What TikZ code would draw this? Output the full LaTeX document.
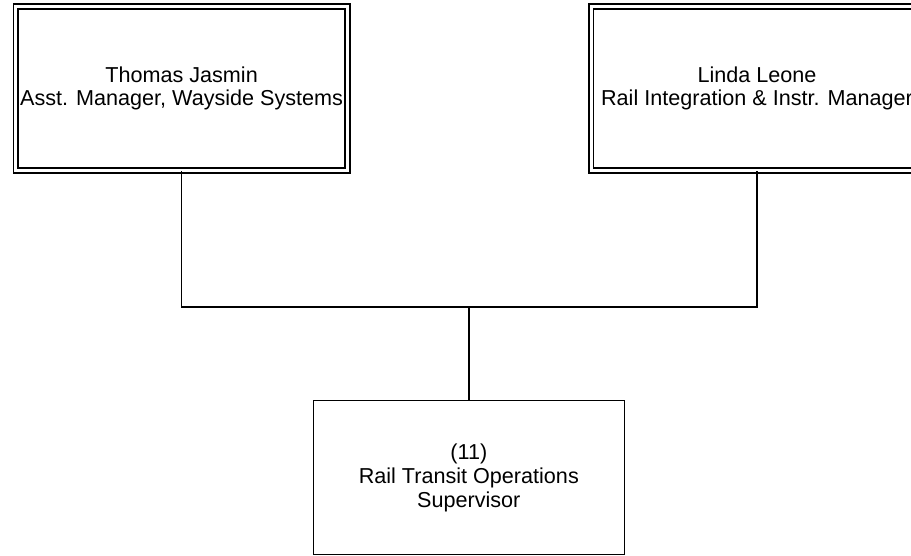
\documentclass[tikz,border=0pt]{standalone}
\usepackage{fontspec}
\setmainfont{Liberation Sans}
\usetikzlibrary{positioning}

\begin{document}
\begin{tikzpicture}[
  x=0.75pt, y=-0.75pt,
  every node/.style={font=\fontsize{16.2pt}{17.8pt}\selectfont, align=center},
  mgr/.style={draw, line width=1.05pt, double, double distance=2.6pt, minimum width=248.6pt, minimum height=123pt},
  staff/.style={draw, line width=1.1pt, minimum width=233.3pt, minimum height=115.5pt},
  link/.style={draw, line width=1.1pt}
]
\useasboundingbox (0,0) rectangle (911,556);
\node[mgr] (jasmin) at (181.6,88.4) {Thomas Jasmin\\Asst. Manager, Wayside Systems};
\node[mgr] (leone) at (757,88.4) {Linda Leone\\Rail Integration \& Instr. Manager};
\node[staff] (rtos) at (468.8,477.7) {(11)\\Rail Transit Operations\\Supervisor};
\coordinate (join) at (468.8,307);
\draw[link] (jasmin.south) |- (join) -| (leone.south);
\draw[link] (join) -- (rtos.north);
\end{tikzpicture}
\end{document}
